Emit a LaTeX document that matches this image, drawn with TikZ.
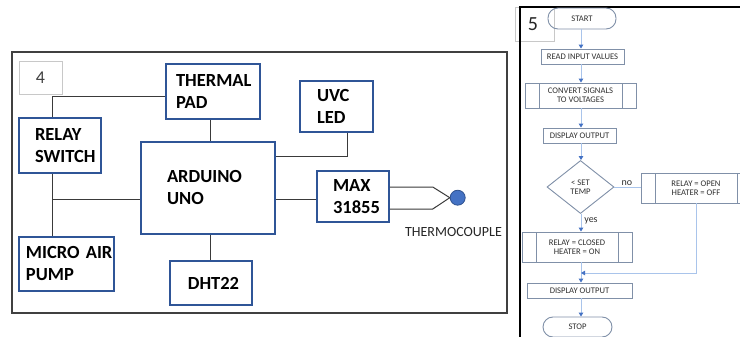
\documentclass[tikz,border=0pt]{standalone}
\usepackage{fontspec}
\setmainfont{Carlito}
\usetikzlibrary{shapes.geometric,arrows.meta,calc}
\definecolor{boxblue}{HTML}{2F5597}
\definecolor{framegray}{HTML}{404040}
\definecolor{wiregray}{HTML}{3A3A3A}
\definecolor{lightgrayb}{HTML}{C8C8C8}
\definecolor{dotblue}{HTML}{4472C4}
\definecolor{dotedge}{HTML}{2F528F}
\definecolor{fcgray}{HTML}{8090A8}
\definecolor{fctext}{HTML}{303030}
\definecolor{lineblue}{HTML}{A9C4EB}
\definecolor{arrowblue}{HTML}{4472C4}
\tikzset{
  lbox/.style={draw=boxblue, line width=1.5pt, font=\bfseries\fontsize{18.5}{22}\selectfont,
    align=left, inner ysep=0pt, text=black},
  numbox/.style={draw=lightgrayb, line width=0.8pt, inner sep=0pt, text=framegray},
  wire/.style={draw=wiregray, line width=1pt},
  fbox/.style={draw=fcgray, line width=0.9pt, font=\fontsize{8.6}{9.4}\selectfont,
    text=fctext, align=center, inner sep=0pt},
  term/.style={fbox, rounded corners=10pt},
  subbox/.style={fbox, path picture={
    \draw[fcgray, line width=0.9pt]
      ([xshift=14pt]path picture bounding box.south west) -- ([xshift=14pt]path picture bounding box.north west)
      ([xshift=-14pt]path picture bounding box.south east) -- ([xshift=-14pt]path picture bounding box.north east);}},
  fl/.style={draw=lineblue, line width=1pt},
  arr/.style={fl, -{Triangle[length=4pt,width=4.5pt,color=arrowblue]}},
  lab/.style={font=\fontsize{10}{11}\selectfont, text=fctext, inner sep=0pt},
}
\begin{document}
\begin{tikzpicture}[x=1pt,y=-1pt]
\useasboundingbox (0,0) rectangle (740,337);
\fill[white] (0,0) rectangle (740,337);

% ---------------- left panel ----------------
\draw[framegray, line width=1.5pt] (12,52) rectangle (507,313);
\node[numbox, minimum width=43pt, minimum height=33pt, font=\fontsize{18}{20}\selectfont] (n4) at (40.5,77.5) {4};

\node[lbox, minimum width=94pt, minimum height=55pt, text width=74pt, inner xsep=10pt] (thermal) at (213,91.5) {THERMAL\\PAD};
\node[lbox, minimum width=82pt, minimum height=55pt, text width=50pt, inner xsep=16pt] (relay) at (60,145.5) {RELAY\\SWITCH};
\node[lbox, minimum width=134pt, minimum height=92pt, text width=82pt, inner xsep=26pt] (arduino) at (208,188) {ARDUINO\\UNO};
\node[lbox, minimum width=95pt, minimum height=54pt, text width=81pt, inner xsep=7pt] (pump) at (66.5,264) {\mbox{MICRO AIR}\\PUMP};
\node[lbox, minimum width=82pt, minimum height=44pt, align=center] (dht) at (211,283) {\hspace{5pt}DHT22};
\node[lbox, minimum width=73pt, minimum height=51pt, text width=39pt, inner xsep=17pt] (uvc) at (336.5,106.5) {UVC\\LED};
\node[lbox, minimum width=72pt, minimum height=51pt, text width=40pt, inner xsep=16pt] (max) at (353,196.5) {MAX\\31855};
\node[circle, fill=dotblue, draw=dotedge, line width=0.8pt, minimum size=15pt, inner sep=0pt] (tc) at (457.7,197.7) {};
\node[font=\fontsize{14}{16}\selectfont, text=black!85, inner sep=0pt] (tclbl) at (453.5,232) {THERMOCOUPLE};

\coordinate (c1) at (52,97);
\coordinate (c2) at (210,199);
\coordinate (c3) at (347,156);
\draw[wire] (relay.north -| c1) |- (thermal.west |- c1);
\draw[wire] (thermal.south -| c2) -- (arduino.north -| c2);
\draw[wire] (arduino.south -| c2) -- (dht.north -| c2);
\draw[wire] (relay.south -| c1) -- (pump.north -| c1);
\draw[wire] (c1 |- c2) -- (arduino.west |- c2);
\draw[wire] (uvc.south -| c3) |- (arduino.east |- c3);
\draw[wire] (arduino.east |- c2) -- (max.west |- c2);
\draw[wire] ($(max.east)+(0,-9.5)$) -- ++(43,0) -- (tc.west);
\draw[wire] ($(max.east)+(0,12.5)$) -- ++(43,0) -- (tc.west);

% ---------------- right panel ----------------
\node[numbox, minimum width=39pt, minimum height=34pt, font=\fontsize{20}{22}\selectfont, text=black!85] (n5) at (534.5,24) {\hspace{-3pt}5};
\draw[black, line width=2.5pt] (520,338) -- (520,7) -- (741,7);

\node[term, minimum width=68pt, minimum height=21pt] (start) at (582,18.5) {START};
\node[fbox, minimum width=83pt, minimum height=15pt] (read) at (582.5,56.5) {READ INPUT VALUES};
\node[subbox, minimum width=111pt, minimum height=25pt] (conv) at (580.5,95.5) {CONVERT SIGNALS\\TO VOLTAGES};
\node[fbox, minimum width=73pt, minimum height=15pt] (disp1) at (579.5,135.5) {DISPLAY OUTPUT};
\node[fbox, diamond, minimum width=67pt, minimum height=53pt] (dec) at (580.5,187) {{<} SET\\TEMP};
\node[subbox, minimum width=110pt, minimum height=30pt] (open) at (696,188) {RELAY = OPEN\\HEATER = OFF};
\node[subbox, minimum width=110pt, minimum height=30pt] (closed) at (577,247) {RELAY = CLOSED\\HEATER = ON};
\node[fbox, minimum width=105pt, minimum height=15pt] (disp2) at (579.5,290.5) {DISPLAY OUTPUT};
\node[term, minimum width=69pt, minimum height=20pt] (stop) at (577.5,327) {STOP};
\node[lab] (nolbl) at (627,183) {no};
\node[lab] (yeslbl) at (591,221) {yes};

\coordinate (ax) at (581,0);
\coordinate (mg) at (581,273);
\draw[arr] (start.south -| ax) -- (read.north -| ax);
\draw[arr] (read.south -| ax) -- (conv.north -| ax);
\draw[arr] (conv.south -| ax) -- (disp1.north -| ax);
\draw[arr] (disp1.south -| ax) -- (dec.north -| ax);
\draw[arr] (dec.south -| ax) -- (closed.north -| ax);
\draw[fl] (dec.east) -- (open.west |- dec.east);
\draw[arr] (closed.south -| ax) -- (disp2.north -| ax);
\draw[arr] (open.south) |- (mg);
\draw[arr] (disp2.south -| ax) -- (stop.north -| ax);
\end{tikzpicture}
\end{document}
